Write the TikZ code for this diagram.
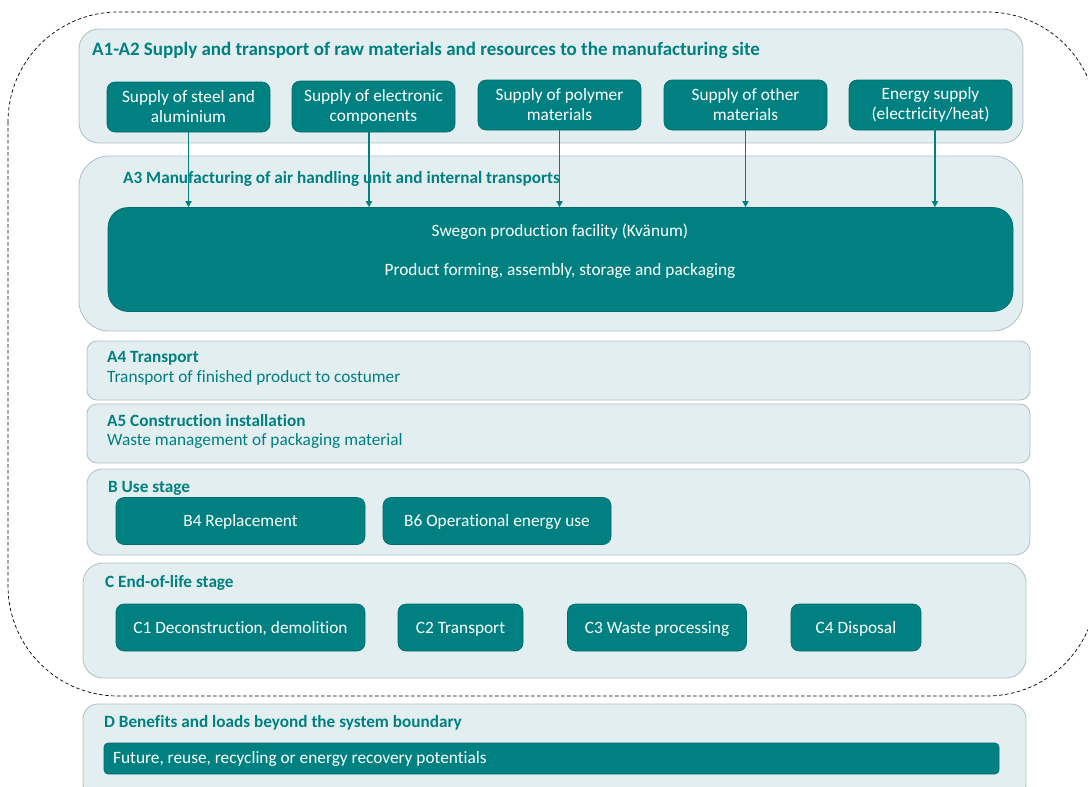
\documentclass[tikz,border=0pt]{standalone}
\usepackage{fontspec}
\setmainfont{Carlito}[Ligatures=NoCommon]
\usetikzlibrary{arrows.meta}

\definecolor{lcateal}{RGB}{0,128,128}
\definecolor{lcaedge}{RGB}{0,108,108}
\definecolor{panelfill}{RGB}{227,238,240}
\definecolor{paneledge}{RGB}{176,190,192}

\tikzset{
  panel/.style={draw=paneledge, fill=panelfill, line width=0.8pt, rounded corners=20pt},
  stagebox/.style={draw=lcaedge, fill=lcateal, line width=0.6pt, rounded corners=8pt,
    text=white, align=center, inner sep=0pt, font=\fontsize{17.3}{20}\selectfont},
  oneline/.style={text height=15pt, text depth=4pt},
  boxtext/.style={text=white, inner sep=0pt, anchor=base, font=\fontsize{17.3}{20}\selectfont},
  bigtitle/.style={text=lcateal, inner sep=0pt, anchor=base west, font=\bfseries\fontsize{19}{22}\selectfont},
  stagetitle/.style={text=lcateal, inner sep=0pt, anchor=base west, font=\bfseries\fontsize{17.2}{20}\selectfont},
  stagenote/.style={text=lcateal, inner sep=0pt, anchor=base west, font=\fontsize{17.3}{20}\selectfont},
  flow/.style={draw=lcateal, line width=1.5pt, -{Triangle[length=6pt,width=6pt]}},
}

\begin{document}
\begin{tikzpicture}[x=1pt,y=-1pt]
\useasboundingbox (0,0) rectangle (1088,787);

% system boundary
\draw[dash pattern=on 3.5pt off 2.5pt, line width=0.7pt, rounded corners=110pt] (8,12) rectangle (1097,696);

% A1-A2
\draw[panel] (79,29) rectangle (1023,143);
\node[bigtitle] (a12) at (92,55) {A1-A2 Supply and transport of raw materials and resources to the manufacturing site};
\node[stagebox, minimum width=163pt, minimum height=50pt] (steel) at (188.5,107) {Supply of steel and\\aluminium};
\node[stagebox, minimum width=163pt, minimum height=51pt] (elec) at (373.5,106.5) {Supply of electronic\\components};
\node[stagebox, minimum width=163pt, minimum height=50pt] (poly) at (559.5,105) {Supply of polymer\\materials};
\node[stagebox, minimum width=163pt, minimum height=50pt] (other) at (745.5,105) {Supply of other\\materials};
\node[stagebox, minimum width=163pt, minimum height=50pt] (energy) at (930.5,105) {Energy supply\\(electricity/heat)};

% A3
\draw[panel, rounded corners=30pt] (79,156) rectangle (1023,331);
\node[stagebox, rounded corners=20pt, minimum width=905pt, minimum height=104pt] (plant) at (560.5,259.5) {};
\node[boxtext] (plantname) at (560,236) {Swegon production facility (Kvänum)};
\node[boxtext] (plantwork) at (560,275) {Product forming, assembly, storage and packaging};

% supply flows
\draw[flow] (steel.south) -- (steel.south |- plant.north);
\draw[flow] ([xshift=-4.5pt]elec.south) -- ([xshift=-4.5pt]elec.south |- plant.north);
\draw[flow] (poly.south) -- (poly.south |- plant.north);
\draw[flow] (other.south) -- (other.south |- plant.north);
\draw[flow] ([xshift=4.5pt]energy.south) -- ([xshift=4.5pt]energy.south |- plant.north);
\node[stagetitle] (a3) at (123,183) {A3 Manufacturing of air handling unit and internal transports};

% A4, A5
\draw[panel, rounded corners=10pt] (87,341) rectangle (1030,400);
\node[stagetitle] (a4) at (107,362) {A4 Transport};
\node[stagenote] (a4note) at (107,382) {Transport of finished product to costumer};
\draw[panel, rounded corners=10pt] (87,404) rectangle (1030,463);
\node[stagetitle] (a5) at (107,426) {A5 Construction installation};
\node[stagenote] (a5note) at (107,445) {Waste management of packaging material};

% B
\draw[panel, rounded corners=15pt] (87,469) rectangle (1030,555);
\node[stagetitle] (buse) at (108,492) {B Use stage};
\node[stagebox, oneline, minimum width=249pt, minimum height=47pt] (b4) at (240.5,521) {B4 Replacement};
\node[stagebox, oneline, minimum width=228pt, minimum height=47pt] (b6) at (497,521) {B6 Operational energy use};

% C
\draw[panel, rounded corners=20pt] (83,563) rectangle (1026,678);
\node[stagetitle] (cend) at (105,587) {C End-of-life stage};
\node[stagebox, oneline, minimum width=249pt, minimum height=47pt] (c1) at (240.5,627.5) {C1 Deconstruction, demolition};
\node[stagebox, oneline, minimum width=125pt, minimum height=47pt] (c2) at (460.5,627.5) {C2 Transport};
\node[stagebox, oneline, minimum width=179pt, minimum height=47pt] (c3) at (657,627.5) {C3 Waste processing};
\node[stagebox, oneline, minimum width=130pt, minimum height=47pt] (c4) at (856,627.5) {C4 Disposal};

% D
\draw[panel, rounded corners=15pt] (83,704) rectangle (1026,800);
\node[stagetitle] (dben) at (104,727) {D Benefits and loads beyond the system boundary};
\node[stagebox, rounded corners=4pt, minimum width=895pt, minimum height=31pt] (dpot) at (551.5,758.5) {};
\node[boxtext, anchor=base west] (dtext) at (113,763) {Future, reuse, recycling or energy recovery potentials};
\end{tikzpicture}
\end{document}
